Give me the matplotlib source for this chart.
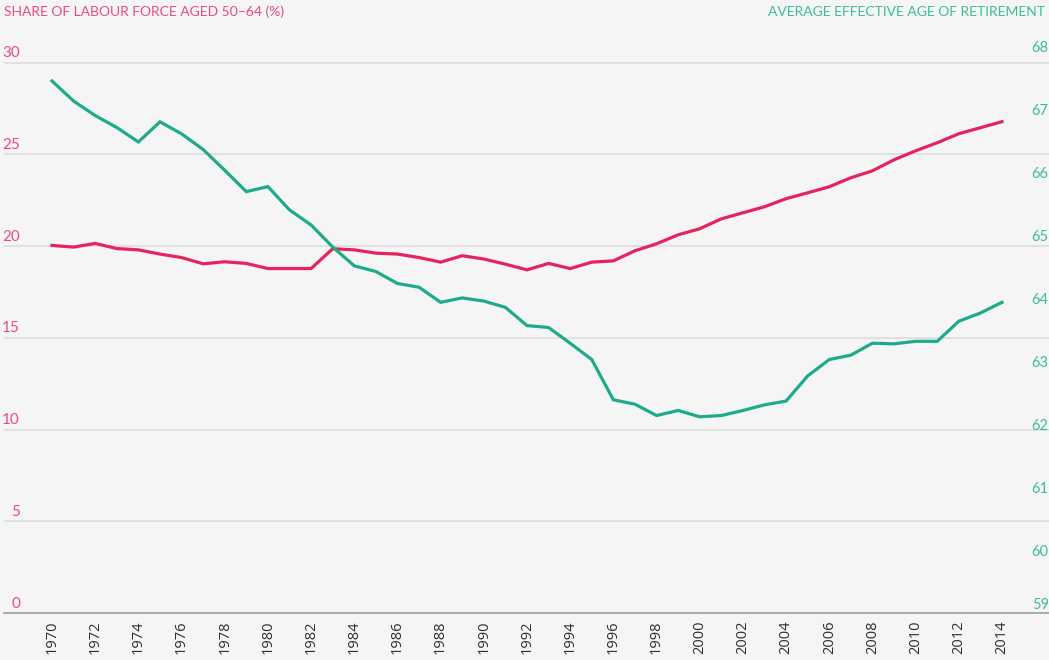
import matplotlib
matplotlib.use('Agg')
import matplotlib.pyplot as plt
import matplotlib.transforms as mtransforms

# values
years = list(range(1970, 2015))
labour_share = [20.04, 19.95, 20.15, 19.87, 19.80, 19.57, 19.38, 19.04, 19.15, 19.06,
                18.78, 18.78, 18.78, 19.86, 19.80, 19.62, 19.57, 19.38, 19.13, 19.48,
                19.30, 19.02, 18.71, 19.06, 18.78, 19.13, 19.20, 19.75, 20.13, 20.62,
                20.95, 21.49, 21.82, 22.15, 22.59, 22.91, 23.24, 23.73, 24.11, 24.71,
                25.20, 25.64, 26.13, 26.46, 26.79]
retire_age = [67.46, 67.14, 66.91, 66.72, 66.49, 66.81, 66.62, 66.37, 66.04, 65.70,
              65.78, 65.41, 65.17, 64.82, 64.52, 64.43, 64.24, 64.18, 63.94, 64.01,
              63.96, 63.86, 63.57, 63.54, 63.29, 63.03, 62.39, 62.32, 62.14, 62.22,
              62.12, 62.14, 62.22, 62.31, 62.37, 62.77, 63.03, 63.10, 63.29, 63.28,
              63.32, 63.32, 63.64, 63.77, 63.94]
left_ticks = [0, 5, 10, 15, 20, 25, 30]
right_ticks = [59, 60, 61, 62, 63, 64, 65, 66, 67, 68]
year_ticks = list(range(1970, 2015, 2))

left_title = 'SHARE OF LABOUR FORCE AGED 50–64 (%)'
right_title = 'AVERAGE EFFECTIVE AGE OF RETIREMENT'

RED = '#E5245C'
GREEN = '#1DAB8B'
PINK_TXT = '#EC4A7C'
GREEN_TXT = '#3CBD9B'
BG = '#F5F5F5'

W, H = 1049, 660
fig = plt.figure(figsize=(W / 100, H / 100), dpi=100, facecolor=BG)
ax = fig.add_axes([4 / W, (H - 613) / H, 1 - 4 / W, (613 - 47) / H])
ax.set_facecolor(BG)
ax2 = ax.twinx()

ax.plot(years, labour_share, color=RED, lw=2.3, solid_joinstyle='miter', zorder=3)
ax2.plot(years, retire_age, color=GREEN, lw=2.3, solid_joinstyle='miter', zorder=3)

ax.set_xlim(1970 - 48 / 21.59, 2014 + 47 / 21.59)
ax.set_ylim(0, 30.86)
ax2.set_ylim(59, 68)

for a in (ax, ax2):
    for s in a.spines.values():
        s.set_visible(False)
ax.spines['bottom'].set_visible(True)
ax.spines['bottom'].set_color('#9A9A9A')
ax.spines['bottom'].set_linewidth(1.1)

# grid lines for the left scale
ax.set_yticks(left_ticks)
ax.set_yticklabels([str(t) for t in left_ticks])
ax.yaxis.grid(True, color='#DADADA', lw=1.1)
ax.set_axisbelow(True)
ax.tick_params(axis='y', length=0, pad=-11.5, labelsize=11, labelcolor=PINK_TXT)
up = mtransforms.ScaledTranslation(0, 0.11, fig.dpi_scale_trans)
for lbl in ax.get_yticklabels():
    lbl.set_transform(lbl.get_transform() + up)
    lbl.set_fontfamily('Lato')

ax2.set_yticks(right_ticks)
ax2.set_yticklabels([str(t) for t in right_ticks])
ax2.tick_params(axis='y', length=0, pad=-12.5, labelsize=10.5, labelcolor=GREEN_TXT)
for lbl in ax2.get_yticklabels():
    lbl.set_fontfamily('Lato')
ax2.get_yticklabels()[0].set_transform(
    ax2.get_yticklabels()[0].get_transform()
    + mtransforms.ScaledTranslation(0, 0.095, fig.dpi_scale_trans))

ax.set_xticks(year_ticks)
ax.set_xticklabels([str(y) for y in year_ticks], rotation=90, fontfamily='Open Sans')
ax.tick_params(axis='x', length=0, pad=5.5, labelsize=10.5, labelcolor='#2E2E2E')

fig.text(4 / W, 1 - 12 / H, left_title, color=PINK_TXT, fontsize=10,
         fontfamily='Lato', ha='left', va='center')
fig.text(1045 / W, 1 - 12 / H, right_title, color=GREEN_TXT, fontsize=10,
         fontfamily='Lato', ha='right', va='center')

fig.savefig('out.png', dpi=100, facecolor=BG)
